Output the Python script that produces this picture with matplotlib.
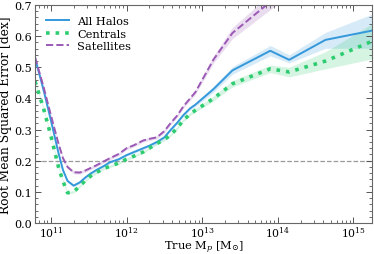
import numpy as np
import matplotlib
matplotlib.use("Agg")
import matplotlib.pyplot as plt
from matplotlib.ticker import MultipleLocator, LogLocator, NullFormatter

# ---- data (log10 of true peak mass) ----
log_mass = [10.79, 10.9, 11.0, 11.1, 11.16, 11.22, 11.3, 11.38, 11.45, 11.52,
            11.6, 11.7, 11.78, 11.9, 12.0, 12.1, 12.22, 12.3, 12.4, 12.5,
            12.58, 12.67, 12.75, 12.84, 12.91, 13.15, 13.4, 13.9, 14.15, 14.63, 15.25]

rmse_all = [0.53, 0.43, 0.33, 0.225, 0.17, 0.135, 0.12, 0.13, 0.145, 0.158,
            0.17, 0.183, 0.195, 0.205, 0.218, 0.228, 0.24, 0.248, 0.26, 0.275,
            0.298, 0.322, 0.346, 0.368, 0.38, 0.43, 0.49, 0.553, 0.524, 0.588, 0.618]
all_lo = [0.525, 0.425, 0.325, 0.22, 0.166, 0.131, 0.116, 0.126, 0.141, 0.154,
          0.166, 0.179, 0.191, 0.201, 0.214, 0.224, 0.236, 0.244, 0.256, 0.271,
          0.294, 0.318, 0.341, 0.363, 0.374, 0.42, 0.478, 0.537, 0.514, 0.561, 0.561]
all_hi = [0.535, 0.435, 0.335, 0.23, 0.174, 0.139, 0.124, 0.134, 0.149, 0.162,
          0.174, 0.187, 0.199, 0.209, 0.222, 0.232, 0.244, 0.252, 0.264, 0.279,
          0.302, 0.326, 0.351, 0.373, 0.386, 0.44, 0.502, 0.57, 0.54, 0.612, 0.671]

rmse_cen = [0.455, 0.37, 0.28, 0.18, 0.134, 0.097, 0.10, 0.118, 0.135, 0.15,
            0.162, 0.175, 0.182, 0.193, 0.205, 0.215, 0.228, 0.24, 0.255, 0.268,
            0.282, 0.305, 0.33, 0.35, 0.362, 0.40, 0.447, 0.495, 0.485, 0.52, 0.584]
cen_lo = [0.45, 0.365, 0.275, 0.175, 0.13, 0.093, 0.096, 0.114, 0.131, 0.146,
          0.158, 0.171, 0.178, 0.189, 0.201, 0.211, 0.224, 0.236, 0.251, 0.264,
          0.278, 0.3, 0.325, 0.345, 0.356, 0.392, 0.437, 0.483, 0.469, 0.495, 0.527]
cen_hi = [0.46, 0.375, 0.285, 0.185, 0.138, 0.101, 0.104, 0.122, 0.139, 0.154,
          0.166, 0.179, 0.186, 0.197, 0.209, 0.219, 0.232, 0.244, 0.259, 0.272,
          0.286, 0.31, 0.335, 0.355, 0.368, 0.408, 0.457, 0.507, 0.5, 0.55, 0.64]

rmse_sat = [0.532, 0.44, 0.346, 0.255, 0.208, 0.18, 0.163, 0.162, 0.168, 0.176,
            0.185, 0.198, 0.208, 0.222, 0.24, 0.25, 0.265, 0.27, 0.275, 0.295,
            0.32, 0.345, 0.374, 0.40, 0.42, 0.525, 0.61, 0.71, 0.76, 0.82, 0.88]
sat_lo = [0.527, 0.435, 0.341, 0.25, 0.203, 0.175, 0.158, 0.157, 0.163, 0.171,
          0.18, 0.193, 0.203, 0.217, 0.235, 0.245, 0.26, 0.265, 0.27, 0.29,
          0.315, 0.34, 0.368, 0.394, 0.413, 0.514, 0.592, 0.685, 0.73, 0.79, 0.85]
sat_hi = [0.537, 0.445, 0.351, 0.26, 0.213, 0.185, 0.168, 0.167, 0.173, 0.181,
          0.19, 0.203, 0.213, 0.227, 0.245, 0.255, 0.27, 0.275, 0.28, 0.3,
          0.325, 0.35, 0.38, 0.406, 0.427, 0.536, 0.628, 0.735, 0.79, 0.85, 0.91]

labels = ["All Halos", "Centrals", "Satellites"]
colors = ["#3498db", "#2ecc71", "#9b59b6"]
threshold = 0.2

plt.rcParams["font.family"] = "DejaVu Serif"
plt.rcParams["mathtext.fontset"] = "dejavuserif"

mass = 10.0 ** np.array(log_mass)

fig = plt.figure(figsize=(3.74, 2.55), dpi=100)
ax = fig.add_axes([35 / 374, 1 - 224 / 255, 337 / 374, 218 / 255])

series = [(rmse_all, all_lo, all_hi, "-", 1.4),
          (rmse_cen, cen_lo, cen_hi, ":", 2.6),
          (rmse_sat, sat_lo, sat_hi, "--", 1.4)]
for (y, lo, hi, ls, lw), lab, c in zip(series, labels, colors):
    ax.fill_between(mass, lo, hi, color=c, alpha=0.2, lw=0)
    ax.plot(mass, y, ls=ls, lw=lw, color=c, label=lab)

ax.axhline(threshold, color="#999999", ls="--", lw=0.9, zorder=0)

ax.set_xscale("log")
ax.set_xlim(10 ** 10.79, 10 ** 15.245)
ax.set_ylim(0.0, 0.7)
ax.yaxis.set_major_locator(MultipleLocator(0.1))
ax.yaxis.set_minor_locator(MultipleLocator(0.02))
ax.xaxis.set_major_locator(LogLocator(base=10, numticks=20))
ax.xaxis.set_minor_locator(LogLocator(base=10, subs=np.arange(2, 10), numticks=50))
ax.xaxis.set_minor_formatter(NullFormatter())
ax.tick_params(which="both", direction="in", top=True, right=True,
               labelsize=8.0, color="#555555")
ax.tick_params(axis="x", which="both", labelsize=7.8, pad=1.0)
ax.tick_params(axis="y", which="both", pad=2)
ax.tick_params(which="major", length=4, width=0.7)
ax.tick_params(which="minor", length=2, width=0.6)
for s in ax.spines.values():
    s.set_color("#666666")
    s.set_linewidth(0.8)

ax.set_xlabel(r"True M$_p$ [M$_{\odot}$]", fontsize=8.2)
ax.xaxis.set_label_coords(0.5, -0.072)
ax.set_ylabel("Root Mean Squared Error [dex]", fontsize=8.8, labelpad=1.5)

ax.legend(loc="upper left", frameon=False, fontsize=8.2, handlelength=2.0,
          borderaxespad=0.5, borderpad=0.5, labelspacing=0.2, handletextpad=0.7)

fig.savefig("out.png", dpi=100)
